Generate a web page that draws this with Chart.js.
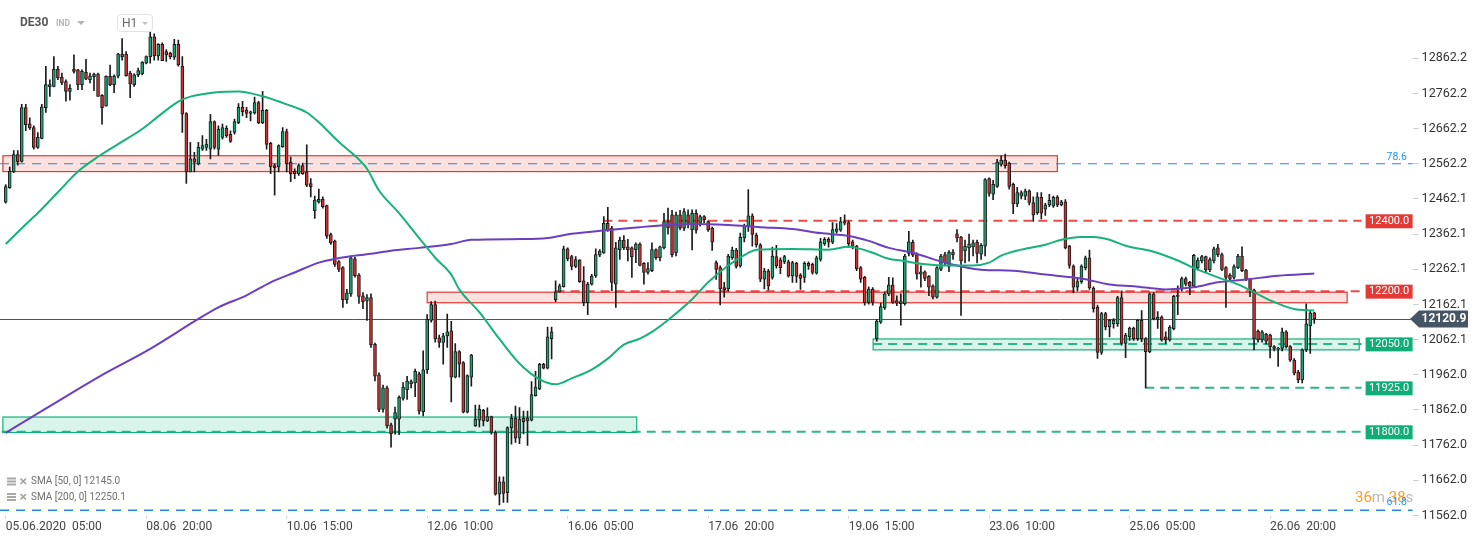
<!DOCTYPE html>
<html>
<head>
<meta charset="utf-8">
<script src="https://cdn.jsdelivr.net/npm/chart.js@4.4.0/dist/chart.umd.min.js"></script>
<style>
  html, body { margin: 0; padding: 0; background: #fff; }
  #wrap { width: 1482px; height: 542px; position: relative; }
</style>
</head>
<body>
<div id="wrap"><canvas id="chart"></canvas></div>
<script>
// DE30 H1 candles (index = hourly slot)
const opens = [
  12453,12494,12539,12588,12569,12722,12676,12665,12609,12634,
  12722,12781,12782,12831,12808,12796,12768,12831,12829,12787,
  12822,12801,12810,12817,12757,12726,12811,12787,12811,12874,
  12874,12820,12787,12815,12818,12848,12867,12923,12869,12902,
  12881,12876,12865,12902,12840,12705,12539,12576,12562,12604,
  12609,12604,12682,12604,12637,12663,12646,12651,12679,12723,
  12714,12705,12707,12736,12679,12714,12620,12557,12553,12611,
  12654,12567,12541,12534,12557,12539,12506,12429,12454,12461,
  12443,12361,12342,12284,12267,12176,12192,12292,12246,12187,
  12172,12182,12049,11962,11864,11925,11820,11836,11836,11895,
  11920,11936,11939,11965,11857,11976,12117,12162,12067,12054,
  12073,12087,11955,12028,11997,11856,11955,11817,11833,11861,
  11831,11843,11798,11623,11658,11627,11812,11839,11782,11839,
  11831,11833,11903,11922,11992,11981,12065,12176,12198,12213,
  12320,12298,12270,12288,12229,12167,12220,12243,12302,12309,
  12393,12379,12220,12318,12345,12326,12323,12318,12334,12279,
  12253,12258,12318,12295,12323,12398,12417,12309,12417,12379,
  12417,12375,12421,12393,12412,12398,12379,12281,12267,12210,
  12206,12295,12317,12272,12351,12384,12414,12359,12332,12234,
  12257,12239,12298,12289,12283,12283,12243,12279,12246,12239,
  12279,12276,12251,12290,12335,12347,12339,12370,12373,12398,
  12395,12340,12328,12267,12239,12168,12206,12065,12112,12152,
  12192,12217,12173,12164,12164,12307,12339,12304,12248,12255,
  12242,12215,12183,12262,12304,12270,12304,12363,12354,12314,
  12323,12326,12339,12305,12328,12520,12476,12498,12560,12573,
  12564,12504,12448,12470,12470,12485,12452,12423,12467,12433,
  12445,12442,12467,12445,12454,12328,12271,12211,12227,12267,
  12295,12209,12154,12026,12136,12098,12107,12107,12182,12051,
  12070,12095,12065,12117,12065,12028,12192,12120,12126,12070,
  12061,12093,12185,12206,12236,12225,12214,12266,12286,12298,
  12260,12286,12323,12304,12267,12245,12239,12267,12300,12260,
  12234,12204,12086,12061,12077,12076,12042,12035,12037,12084,
  12042,12004,11970,11948,12033,12101,12138
];
const highs = [
  12503,12553,12600,12600,12731,12731,12693,12670,12651,12731,
  12839,12801,12867,12839,12820,12801,12787,12872,12831,12829,
  12859,12820,12820,12820,12759,12812,12843,12815,12876,12918,
  12881,12825,12818,12834,12853,12869,12937,12932,12904,12906,
  12887,12880,12916,12914,12867,12708,12623,12595,12623,12642,
  12632,12703,12684,12670,12675,12670,12656,12689,12733,12740,
  12723,12712,12752,12740,12768,12717,12623,12562,12616,12665,
  12661,12581,12548,12562,12564,12616,12520,12470,12490,12468,
  12445,12365,12345,12287,12270,12205,12300,12297,12250,12196,
  12190,12192,12052,11968,11933,11930,11825,11870,11902,11940,
  11958,11948,11978,11970,12030,12133,12170,12172,12075,12080,
  12135,12114,12051,12031,12000,11962,12020,11876,11876,11864,
  11868,11845,11803,11672,11672,11814,11850,11873,11869,11859,
  11859,11943,11972,11995,11995,12098,12098,12229,12220,12328,
  12323,12302,12298,12290,12270,12225,12248,12320,12318,12412,
  12438,12384,12339,12354,12358,12347,12326,12337,12337,12281,
  12281,12337,12320,12328,12421,12436,12430,12425,12430,12435,
  12431,12431,12431,12416,12415,12400,12382,12286,12272,12225,
  12305,12325,12322,12365,12391,12489,12420,12365,12335,12265,
  12262,12325,12330,12295,12302,12288,12285,12282,12250,12283,
  12283,12280,12300,12350,12352,12352,12395,12392,12410,12417,
  12400,12345,12330,12270,12242,12212,12210,12120,12165,12198,
  12239,12238,12187,12192,12305,12370,12345,12309,12272,12258,
  12244,12218,12270,12305,12310,12315,12318,12375,12356,12345,
  12362,12345,12345,12335,12520,12522,12515,12575,12585,12590,
  12567,12507,12495,12485,12490,12488,12468,12480,12480,12450,
  12475,12470,12472,12458,12460,12330,12275,12235,12275,12300,
  12317,12212,12160,12140,12140,12120,12122,12185,12201,12080,
  12098,12098,12120,12145,12068,12195,12196,12142,12130,12084,
  12102,12188,12215,12240,12240,12228,12305,12295,12302,12300,
  12295,12325,12333,12308,12270,12250,12275,12305,12326,12262,
  12236,12206,12090,12088,12080,12078,12045,12040,12095,12088,
  12045,12008,11975,12036,12164,12145,12140
];
const lows = [
  12450,12492,12537,12558,12567,12656,12660,12604,12606,12633,
  12708,12754,12781,12801,12787,12740,12743,12820,12773,12773,
  12801,12792,12770,12754,12675,12726,12784,12764,12806,12857,
  12811,12750,12782,12810,12815,12846,12848,12857,12857,12855,
  12853,12860,12859,12840,12651,12506,12539,12539,12559,12600,
  12600,12576,12604,12586,12632,12637,12623,12646,12676,12698,
  12693,12684,12703,12676,12676,12604,12534,12473,12539,12609,
  12539,12511,12520,12529,12532,12497,12468,12407,12450,12436,
  12350,12333,12270,12255,12154,12165,12185,12240,12165,12150,
  12117,12040,11945,11857,11856,11810,11756,11793,11792,11890,
  11892,11925,11900,11850,11845,11966,12112,12055,12040,11992,
  12040,11885,11953,11955,11854,11854,11930,11815,11814,11817,
  11829,11793,11620,11592,11599,11599,11765,11770,11766,11794,
  11761,11831,11901,11920,11979,11979,12007,12170,12197,12211,
  12286,12260,12267,12225,12159,12133,12217,12239,12298,12307,
  12370,12201,12154,12290,12318,12286,12239,12281,12272,12220,
  12248,12255,12290,12286,12320,12362,12297,12300,12375,12372,
  12380,12317,12365,12385,12395,12370,12316,12233,12161,12183,
  12200,12290,12265,12268,12340,12370,12328,12325,12227,12206,
  12203,12234,12265,12250,12278,12240,12225,12225,12205,12225,
  12262,12248,12248,12285,12330,12325,12335,12365,12370,12388,
  12325,12320,12258,12225,12160,12163,12160,12058,12108,12148,
  12187,12165,12159,12103,12160,12300,12298,12234,12211,12230,
  12187,12178,12180,12258,12275,12255,12290,12340,12131,12280,
  12285,12300,12280,12290,12300,12470,12460,12495,12555,12550,
  12490,12420,12440,12462,12460,12445,12398,12418,12405,12415,
  12440,12438,12440,12442,12320,12265,12195,12200,12222,12260,
  12205,12140,12009,12020,12090,12070,12095,12100,12046,12011,
  12060,12060,12060,12056,11925,12025,12118,12094,12058,12051,
  12058,12090,12133,12200,12215,12190,12210,12260,12280,12255,
  12255,12280,12298,12258,12154,12228,12235,12264,12255,12230,
  12184,12033,12055,12055,12050,12010,12030,11986,12030,12038,
  12000,11962,11940,11939,12028,12023,12108
];
const closes = [
  12497,12541,12588,12568,12722,12673,12664,12609,12637,12724,
  12787,12787,12831,12806,12792,12768,12777,12825,12787,12825,
  12803,12812,12817,12754,12722,12811,12787,12811,12874,12867,
  12813,12790,12815,12827,12851,12867,12923,12869,12902,12855,
  12872,12867,12902,12843,12703,12539,12576,12567,12609,12614,
  12618,12682,12609,12660,12665,12642,12626,12682,12723,12710,
  12705,12710,12736,12679,12714,12617,12553,12551,12614,12654,
  12562,12534,12534,12557,12534,12501,12497,12459,12461,12440,
  12356,12337,12276,12262,12176,12195,12295,12244,12185,12170,
  12182,12047,11958,11864,11925,11817,11795,11855,11898,11927,
  11944,11943,11972,11859,11976,12120,12162,12064,12054,12073,
  12084,11955,12028,11992,11856,11960,12018,11836,11864,11831,
  11843,11798,11623,11658,11625,11812,11839,11782,11836,11829,
  11839,11906,11927,11992,11981,12070,12084,12198,12215,12320,
  12292,12270,12290,12227,12167,12220,12243,12304,12314,12393,
  12375,12225,12323,12345,12323,12318,12298,12334,12273,12253,
  12264,12318,12295,12326,12398,12380,12304,12417,12379,12426,
  12393,12421,12373,12412,12403,12375,12339,12262,12206,12204,
  12300,12317,12270,12353,12384,12414,12361,12332,12234,12257,
  12215,12300,12272,12267,12298,12243,12281,12242,12236,12279,
  12272,12253,12295,12340,12347,12339,12375,12377,12398,12393,
  12335,12328,12264,12234,12167,12206,12168,12115,12156,12192,
  12217,12168,12166,12170,12300,12340,12302,12248,12255,12236,
  12211,12183,12267,12300,12281,12311,12311,12351,12286,12328,
  12334,12337,12307,12330,12517,12478,12504,12567,12573,12557,
  12498,12448,12480,12480,12485,12452,12417,12468,12422,12445,
  12458,12467,12445,12454,12323,12273,12211,12227,12271,12295,
  12209,12150,12026,12136,12098,12117,12117,12182,12051,12075,
  12095,12065,12117,12065,12028,12192,12122,12126,12061,12061,
  12098,12185,12189,12236,12220,12214,12302,12288,12298,12260,
  12290,12320,12304,12262,12239,12234,12270,12300,12258,12234,
  12204,12065,12061,12084,12058,12042,12037,12037,12084,12042,
  12004,11967,11948,12033,12107,12138,12120.9
];

// moving averages, sampled along the curve: [slot, price]
const sma50 = [
  [0,12334],[4,12379],[8,12422],[13,12481],[18,12540],[23,12582],[28,12618],[34,12661],
  [38,12697],[43,12739],[46,12753],[52,12765],[58,12768],[64,12754],[70,12731],[75,12708],
  [78,12680],[83,12624],[87,12585],[90,12548],[93,12486],[98,12422],[103,12351],[107,12295],
  [111,12247],[113,12205],[118,12140],[123,12064],[128,11994],[133,11949],[137,11935],[141,11952],
  [146,11977],[150,12008],[154,12048],[158,12065],[161,12084],[165,12118],[171,12177],[175,12225],
  [180,12273],[185,12309],[187,12318],[196,12320],[205,12318],[210,12326],[212,12323],[216,12309],
  [220,12292],[223,12287],[228,12278],[234,12273],[241,12273],[245,12281],[248,12301],[253,12318],
  [259,12332],[263,12346],[268,12354],[271,12354],[275,12346],[279,12329],[286,12312],[292,12287],
  [297,12261],[302,12239],[307,12219],[312,12191],[316,12169],[321,12149],[326,12145]
];
const sma200 = [
  [0,11797],[11,11873],[23,11955],[36,12036],[48,12121],[53,12154],[60,12188],[66,12225],
  [72,12253],[78,12281],[87,12301],[91,12306],[96,12315],[103,12323],[111,12334],[116,12346],
  [129,12348],[135,12351],[141,12363],[150,12374],[158,12382],[165,12388],[171,12391],[180,12388],
  [188,12382],[196,12377],[203,12365],[210,12357],[215,12343],[220,12323],[226,12309],[234,12281],
  [243,12261],[251,12258],[259,12247],[268,12236],[275,12219],[281,12214],[289,12205],[296,12211],
  [302,12225],[309,12233],[317,12244],[326,12250]
];
const sma50Value = 12145.0;
const sma200Value = 12250.1;

// zones [fromSlot, toSlot, low, high]
const resistanceZones = [[-0.7, 262, 12540, 12585], [105, 334.2, 12167, 12197]];
const supportZones = [[216.1, 337.2, 12033, 12064], [-0.7, 157.2, 11798, 11842]];
// levels [price, fromSlot]
const resistanceLevels = [[12400, 148.9], [12200, 137]];
const supportLevels = [[12050, 216.1], [11925, 283.9], [11800, -1]];
// fibonacci levels [label, price]
const fibLevels = [['78.6', 12562.2], ['61.8', 11577]];
const lastPrice = 12120.9;

const slotCount = 351;
const xTickIdx = [0, 35, 70, 105, 140, 175, 210, 245, 280, 315];
const xTickLabels = ['05.06.2020  05:00', '08.06  20:00', '10.06  15:00', '12.06  10:00', '16.06  05:00',
  '17.06  20:00', '19.06  15:00', '23.06  10:00', '25.06  05:00', '26.06  20:00'];
const yTicks = [11562.0, 11662.0, 11762.0, 11862.0, 11962.0, 12062.1, 12162.1, 12262.1,
  12362.1, 12462.1, 12562.2, 12662.2, 12762.2, 12862.2];

const GREEN = '#13a56f';
const RED = '#d32f2f';
const slots = Array.from({ length: slotCount }, (_, i) => i);
const bodyColors = opens.map((o, i) => closes[i] >= o ? GREEN : RED);

const overlay = {
    id: 'overlay',
    beforeDatasetsDraw(chart) {
        const { ctx, chartArea, scales: { x, y } } = chart;
        const lineEnd = chartArea.right - 51;
        ctx.save();
        resistanceZones.forEach(([a, b, lo, hi]) => {
            const x0 = x.getPixelForValue(a), x1 = x.getPixelForValue(b);
            const y0 = y.getPixelForValue(hi), y1 = y.getPixelForValue(lo);
            ctx.fillStyle = 'rgba(244,67,54,0.16)';
            ctx.fillRect(x0, y0, x1 - x0, y1 - y0);
            ctx.strokeStyle = '#e53935';
            ctx.lineWidth = 1.2;
            ctx.strokeRect(x0, y0, x1 - x0, y1 - y0);
        });
        supportZones.forEach(([a, b, lo, hi]) => {
            const x0 = x.getPixelForValue(a), x1 = x.getPixelForValue(b);
            const y0 = y.getPixelForValue(hi), y1 = y.getPixelForValue(lo);
            ctx.fillStyle = 'rgba(0,178,122,0.15)';
            ctx.fillRect(x0, y0, x1 - x0, y1 - y0);
            ctx.strokeStyle = '#12b07c';
            ctx.lineWidth = 1.2;
            ctx.strokeRect(x0, y0, x1 - x0, y1 - y0);
        });

        // fibonacci dashed lines
        ctx.strokeStyle = '#1e88e5';
        fibLevels.forEach(([, p], k) => {
            const yy = y.getPixelForValue(p);
            ctx.lineWidth = k === 0 ? 1 : 1.5;
            ctx.setLineDash([9, 7]);
            ctx.beginPath();
            ctx.moveTo(0, yy);
            ctx.lineTo(chartArea.right, yy);
            ctx.stroke();
        });

        ctx.lineWidth = 2;
        ctx.setLineDash([9, 6]);
        ctx.strokeStyle = 'rgba(229,57,53,0.9)';
        resistanceLevels.forEach(([p, from]) => {
            const yy = y.getPixelForValue(p);
            ctx.beginPath();
            ctx.moveTo(x.getPixelForValue(from), yy);
            ctx.lineTo(lineEnd, yy);
            ctx.stroke();
        });
        ctx.strokeStyle = 'rgba(18,176,124,0.9)';
        supportLevels.forEach(([p, from]) => {
            const yy = y.getPixelForValue(p);
            ctx.beginPath();
            ctx.moveTo(Math.max(0, x.getPixelForValue(from)), yy);
            ctx.lineTo(lineEnd, yy);
            ctx.stroke();
        });

        // last price line
        ctx.setLineDash([]);
        ctx.strokeStyle = '#4a5762';
        ctx.lineWidth = 1;
        const yl = Math.round(y.getPixelForValue(lastPrice)) + 0.5;
        ctx.beginPath();
        ctx.moveTo(0, yl);
        ctx.lineTo(chartArea.right, yl);
        ctx.stroke();
        ctx.restore();
    },
    afterDatasetsDraw(chart) {
        const { ctx, chartArea, scales: { y } } = chart;
        ctx.save();
        ctx.font = '11px Roboto';
        ctx.textAlign = 'center';
        ctx.textBaseline = 'middle';
        const bx = chartArea.right - 47;
        const drawTag = (p, color) => {
            const yy = y.getPixelForValue(p);
            ctx.fillStyle = color;
            ctx.fillRect(bx, yy - 6.5, 47, 14);
            ctx.fillStyle = '#fff';
            ctx.fillText(p.toFixed(1), bx + 23.5, yy + 0.5);
        };
        resistanceLevels.forEach(([p]) => drawTag(p, '#e53935'));
        supportLevels.forEach(([p]) => drawTag(p, '#0fae78'));

        // countdown timer
        ctx.textBaseline = 'alphabetic';
        const ty = 502;
        let tx = 1355;
        ctx.textAlign = 'left';
        ctx.font = '15px Roboto';
        [['36', '#ff9a1f'], ['m ', '#b8b8b8'], ['38', '#ff9a1f'], ['s', '#b8b8b8']].forEach(([t, c]) => {
            ctx.fillStyle = c;
            ctx.fillText(t, tx, ty);
            tx += ctx.measureText(t).width;
        });

        // fib labels
        ctx.font = '10.5px Roboto';
        ctx.textAlign = 'right';
        ctx.fillStyle = '#2196f3';
        fibLevels.forEach(([label, p]) => {
            const yy = y.getPixelForValue(p);
            ctx.fillText(label, 1407, yy - (p > 12000 ? 4 : 5));
        });

        // last price tag
        const yl = y.getPixelForValue(lastPrice);
        ctx.fillStyle = '#455563';
        ctx.beginPath();
        ctx.moveTo(1410, yl);
        ctx.lineTo(1419, yl - 8.5);
        ctx.lineTo(1468, yl - 8.5);
        ctx.lineTo(1468, yl + 8.5);
        ctx.lineTo(1419, yl + 8.5);
        ctx.closePath();
        ctx.fill();
        ctx.fillStyle = '#fff';
        ctx.font = 'bold 12px Roboto';
        ctx.textAlign = 'left';
        ctx.textBaseline = 'middle';
        ctx.fillText(lastPrice.toFixed(1), 1421.5, yl + 0.5);
        ctx.restore();
    },
    afterDraw(chart) {
        const { ctx } = chart;
        ctx.save();
        ctx.textBaseline = 'middle';
        // header
        ctx.fillStyle = '#555';
        ctx.font = 'bold 12px Roboto';
        ctx.fillText('DE30', 20, 23);
        ctx.fillStyle = '#b5b5b5';
        ctx.font = 'bold 8.5px Roboto';
        ctx.fillText('IND', 56, 24);
        ctx.beginPath();
        ctx.moveTo(77, 21); ctx.lineTo(85, 21); ctx.lineTo(81, 25); ctx.closePath();
        ctx.fill();
        ctx.fillStyle = 'rgba(255,255,255,0.85)';
        ctx.strokeStyle = '#e2e2e2';
        ctx.lineWidth = 1;
        ctx.beginPath();
        ctx.roundRect(117.5, 14.5, 35, 17, 3);
        ctx.fill();
        ctx.stroke();
        ctx.fillStyle = '#666';
        ctx.font = '12px Roboto';
        ctx.fillText('H1', 122, 23.5);
        ctx.fillStyle = '#c0c0c0';
        ctx.beginPath();
        ctx.moveTo(142, 22); ctx.lineTo(148, 22); ctx.lineTo(145, 25); ctx.closePath();
        ctx.fill();

        // indicator legend
        const rows = [['SMA [50, 0] ' + sma50Value.toFixed(1), 481.5], ['SMA [200, 0] ' + sma200Value.toFixed(1), 497]];
        rows.forEach(([t, yy]) => {
            ctx.fillStyle = '#a8a8a8';
            ctx.fillRect(7, yy - 4, 9, 2);
            ctx.fillRect(7, yy - 1, 9, 2);
            ctx.fillRect(7, yy + 2, 9, 2);
            ctx.strokeStyle = '#a0a0a0';
            ctx.lineWidth = 1.6;
            ctx.beginPath();
            ctx.moveTo(20.5, yy - 3); ctx.lineTo(26, yy + 2.5);
            ctx.moveTo(26, yy - 3); ctx.lineTo(20.5, yy + 2.5);
            ctx.stroke();
            ctx.fillStyle = '#6f6f6f';
            ctx.font = '10px Roboto';
            ctx.fillText(t, 31, yy);
        });
        ctx.restore();
    }
};

Chart.defaults.font.family = 'Roboto';

new Chart(document.getElementById('chart'), {
    type: 'bar',
    data: {
        labels: slots,
        datasets: [
            {
                type: 'line',
                label: 'SMA 50',
                data: sma50.map(([x, y]) => ({ x, y })),
                borderColor: '#16b27c',
                borderWidth: 2,
                pointRadius: 0,
                cubicInterpolationMode: 'monotone',
                order: 0,
            },
            {
                type: 'line',
                label: 'SMA 200',
                data: sma200.map(([x, y]) => ({ x, y })),
                borderColor: '#6a3fc0',
                borderWidth: 2,
                pointRadius: 0,
                cubicInterpolationMode: 'monotone',
                order: 0,
            },
            {
                label: 'body',
                data: opens.map((o, i) => [o, closes[i]]),
                backgroundColor: bodyColors,
                borderColor: '#1b1b1b',
                borderWidth: 1,
                borderSkipped: false,
                barThickness: 3,
                minBarLength: 1,
                grouped: false,
                order: 1,
            },
            {
                label: 'wick',
                data: lows.map((l, i) => [l, highs[i]]),
                backgroundColor: '#1b1b1b',
                borderWidth: 0,
                barThickness: 1,
                minBarLength: 1,
                grouped: false,
                order: 2,
            }
        ]
    },
    options: {
        responsive: true,
        maintainAspectRatio: false,
        animation: false,
        layout: { padding: { left: 3.7, top: 5, right: 0, bottom: 0 } },
        plugins: { legend: { display: false }, tooltip: { enabled: false } },
        scales: {
            x: {
                offset: true,
                grid: { drawOnChartArea: false, offset: false, tickLength: 3, color: '#cfcfcf' },
                border: { display: false },
                afterBuildTicks: scale => { scale.ticks = xTickIdx.map(v => ({ value: v })); },
                afterFit: scale => { scale.height = 26.5; },
                ticks: {
                    autoSkip: false,
                    maxRotation: 0,
                    align: 'start',
                    padding: 1,
                    color: '#444',
                    font: { size: 12 },
                    callback: v => xTickLabels[xTickIdx.indexOf(v)]
                }
            },
            y: {
                position: 'right',
                min: 11562,
                max: 12998,
                grid: { drawOnChartArea: false, tickLength: 6, color: '#cccccc' },
                border: { display: false },
                afterBuildTicks: scale => { scale.ticks = yTicks.map(v => ({ value: v })); },
                afterFit: scale => { scale.width = 69.4; },
                ticks: {
                    padding: 3,
                    color: '#333',
                    font: { size: 12.5 },
                    callback: v => v.toFixed(1)
                }
            }
        }
    },
    plugins: [overlay]
});
</script>
</body>
</html>
